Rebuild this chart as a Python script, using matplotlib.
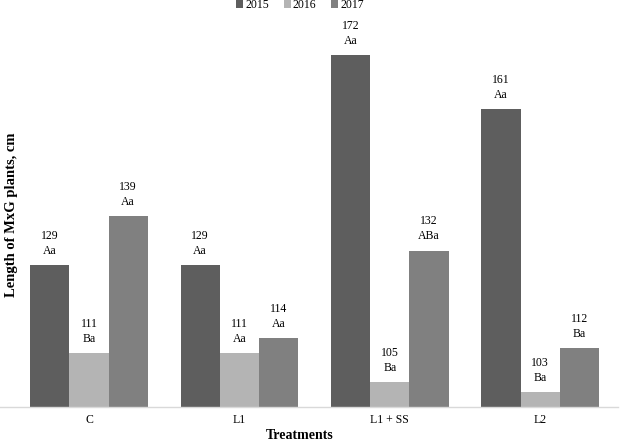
import matplotlib
matplotlib.use("Agg")
import matplotlib.pyplot as plt
import numpy as np
from matplotlib.patches import Patch

categories = ["C", "L1", "L1 + SS", "L2"]
years = ["2015", "2016", "2017"]
vals_2015 = [129, 129, 172, 161]
vals_2016 = [111, 111, 105, 103]
vals_2017 = [139, 114, 132, 112]
letters_2015 = ["Aa", "Aa", "Aa", "Aa"]
letters_2016 = ["Ba", "Aa", "Ba", "Ba"]
letters_2017 = ["Aa", "Aa", "ABa", "Ba"]

colors = ["#5e5e5e", "#b4b4b4", "#808080"]
series = [vals_2015, vals_2016, vals_2017]
letters = [letters_2015, letters_2016, letters_2017]

plt.rcParams['font.family'] = ['Liberation Serif', 'DejaVu Serif']

W, H = 620, 440
fig = plt.figure(figsize=(W / 100, H / 100), dpi=100)
ax = fig.add_axes([0 / W, 1 - 406.7 / H, 618 / W, (406.7 - 16.3) / H])

x = np.arange(len(categories))
bw = 0.261
base = 100
for i, (vals, col, lets) in enumerate(zip(series, colors, letters)):
    xs = x + (i - 1) * bw
    heights = [v - base for v in vals]
    ax.bar(xs, heights, width=bw, bottom=base, color=col, edgecolor='none')
    for xi, v, l in zip(xs, vals, lets):
        ax.annotate(f"{v}\n{l}", (xi, v), xytext=(0, 6), textcoords='offset points',
                    ha='center', va='bottom', fontsize=8.5, linespacing=1.35)

ax.set_xlim(-89 / 150.4, (618 - 89) / 150.4)
ax.set_ylim(100, 180)
ax.set_yticks([])
ax.set_xticks(x)
ax.set_xticklabels(categories, fontsize=8.5)
ax.tick_params(axis='x', length=0, pad=5)
for s in ['top', 'right', 'left']:
    ax.spines[s].set_visible(False)
ax.spines['bottom'].set_color('#d9d9d9')
ax.spines['bottom'].set_linewidth(1.0)
ax.patch.set_alpha(0)

fig.text(12 / W, 1 - 215 / H, "Length of MxG plants, cm", rotation=90, ha='center', va='center',
         fontsize=10.5, fontweight='bold')
fig.text(300 / W, 1 - 435 / H, "Treatments", ha='center', va='center', fontsize=10, fontweight='bold')

handles = [Patch(facecolor=c, edgecolor='none', label=y) for c, y in zip(colors, years)]
fig.legend(handles=handles, loc='center', bbox_to_anchor=(300 / W, 1 - 5 / H), ncol=3, frameon=False,
           fontsize=8.5, handlelength=0.6, handleheight=0.6, handletextpad=0.2, columnspacing=1.2,
           borderpad=0)

fig.savefig("out.png", dpi=100)
